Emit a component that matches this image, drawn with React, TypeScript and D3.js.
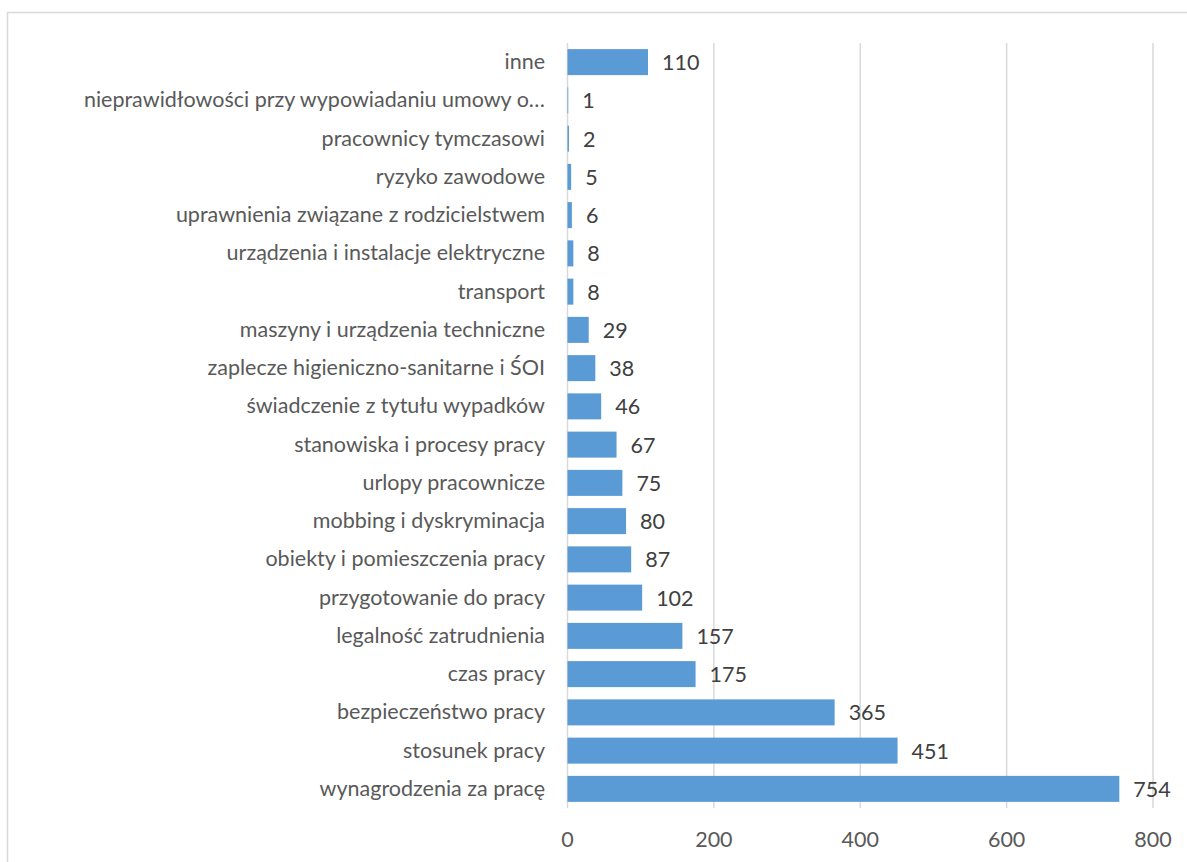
import React from "react";
import * as d3 from "d3";

// Categories listed top to bottom, with their counts
const categories: string[] = [
  "inne",
  "nieprawidłowości przy wypowiadaniu umowy o…",
  "pracownicy tymczasowi",
  "ryzyko zawodowe",
  "uprawnienia związane z rodzicielstwem",
  "urządzenia i instalacje elektryczne",
  "transport",
  "maszyny i urządzenia techniczne",
  "zaplecze higieniczno-sanitarne i ŚOI",
  "świadczenie z tytułu wypadków",
  "stanowiska i procesy pracy",
  "urlopy pracownicze",
  "mobbing i dyskryminacja",
  "obiekty i pomieszczenia pracy",
  "przygotowanie do pracy",
  "legalność zatrudnienia",
  "czas pracy",
  "bezpieczeństwo pracy",
  "stosunek pracy",
  "wynagrodzenia za pracę",
];

const values: number[] = [
  110, 1, 2, 5, 6, 8, 8, 29, 38, 46, 67, 75, 80, 87, 102, 157, 175, 365, 451, 754,
];

const xTicks: number[] = [0, 200, 400, 600, 800];

const W = 1187;
const H = 862;
const FONT = "Lato, 'Open Sans', sans-serif";
const FS = 21.5;

export default function App() {
  const x = d3.scaleLinear().domain([0, 800]).range([567.5, 1153]);
  const y = d3
    .scaleBand<string>()
    .domain(categories)
    .range([43, 808])
    .paddingInner(0.32)
    .paddingOuter(0.16);

  const [y0, y1] = y.range();

  return (
    <svg
      width={W}
      height={H}
      style={{ position: "absolute", left: 0, top: 0, background: "#fff" }}
    >
      <rect x={0} y={0} width={W} height={H} fill="#fff" />
      {/* chart frame */}
      <rect
        x={7.5}
        y={12.5}
        width={1300}
        height={1000}
        fill="none"
        stroke="#d9d9d9"
        strokeWidth={1.5}
      />

      {/* vertical gridlines and axis line */}
      {xTicks.map((t) => (
        <line
          key={"g" + t}
          x1={x(t)}
          x2={x(t)}
          y1={y0}
          y2={y1}
          stroke="#d9d9d9"
          strokeWidth={1.5}
        />
      ))}

      {/* tick labels */}
      {xTicks.map((t) => (
        <text
          key={"t" + t}
          x={x(t)}
          y={839}
          textAnchor="middle"
          dominantBaseline="central"
          fontFamily={FONT}
          fontSize={FS}
          fill="#595959"
        >
          {t}
        </text>
      ))}

      {/* bars */}
      {categories.map((c, i) => (
        <rect
          key={"b" + c}
          x={x(0)}
          y={y(c)!}
          width={Math.max(0, x(values[i]) - x(0))}
          height={y.bandwidth()}
          fill="#5b9bd5"
        />
      ))}

      {/* category labels */}
      {categories.map((c) => (
        <text
          key={"c" + c}
          x={545}
          y={y(c)! + y.bandwidth() / 2 - 1}
          textAnchor="end"
          dominantBaseline="central"
          fontFamily={FONT}
          fontSize={FS}
          fill="#595959"
        >
          {c}
        </text>
      ))}

      {/* value labels */}
      {categories.map((c, i) => (
        <text
          key={"v" + c}
          x={x(values[i]) + 14}
          y={y(c)! + y.bandwidth() / 2}
          textAnchor="start"
          dominantBaseline="central"
          fontFamily={FONT}
          fontSize={FS}
          fill="#404040"
        >
          {values[i]}
        </text>
      ))}
    </svg>
  );
}
